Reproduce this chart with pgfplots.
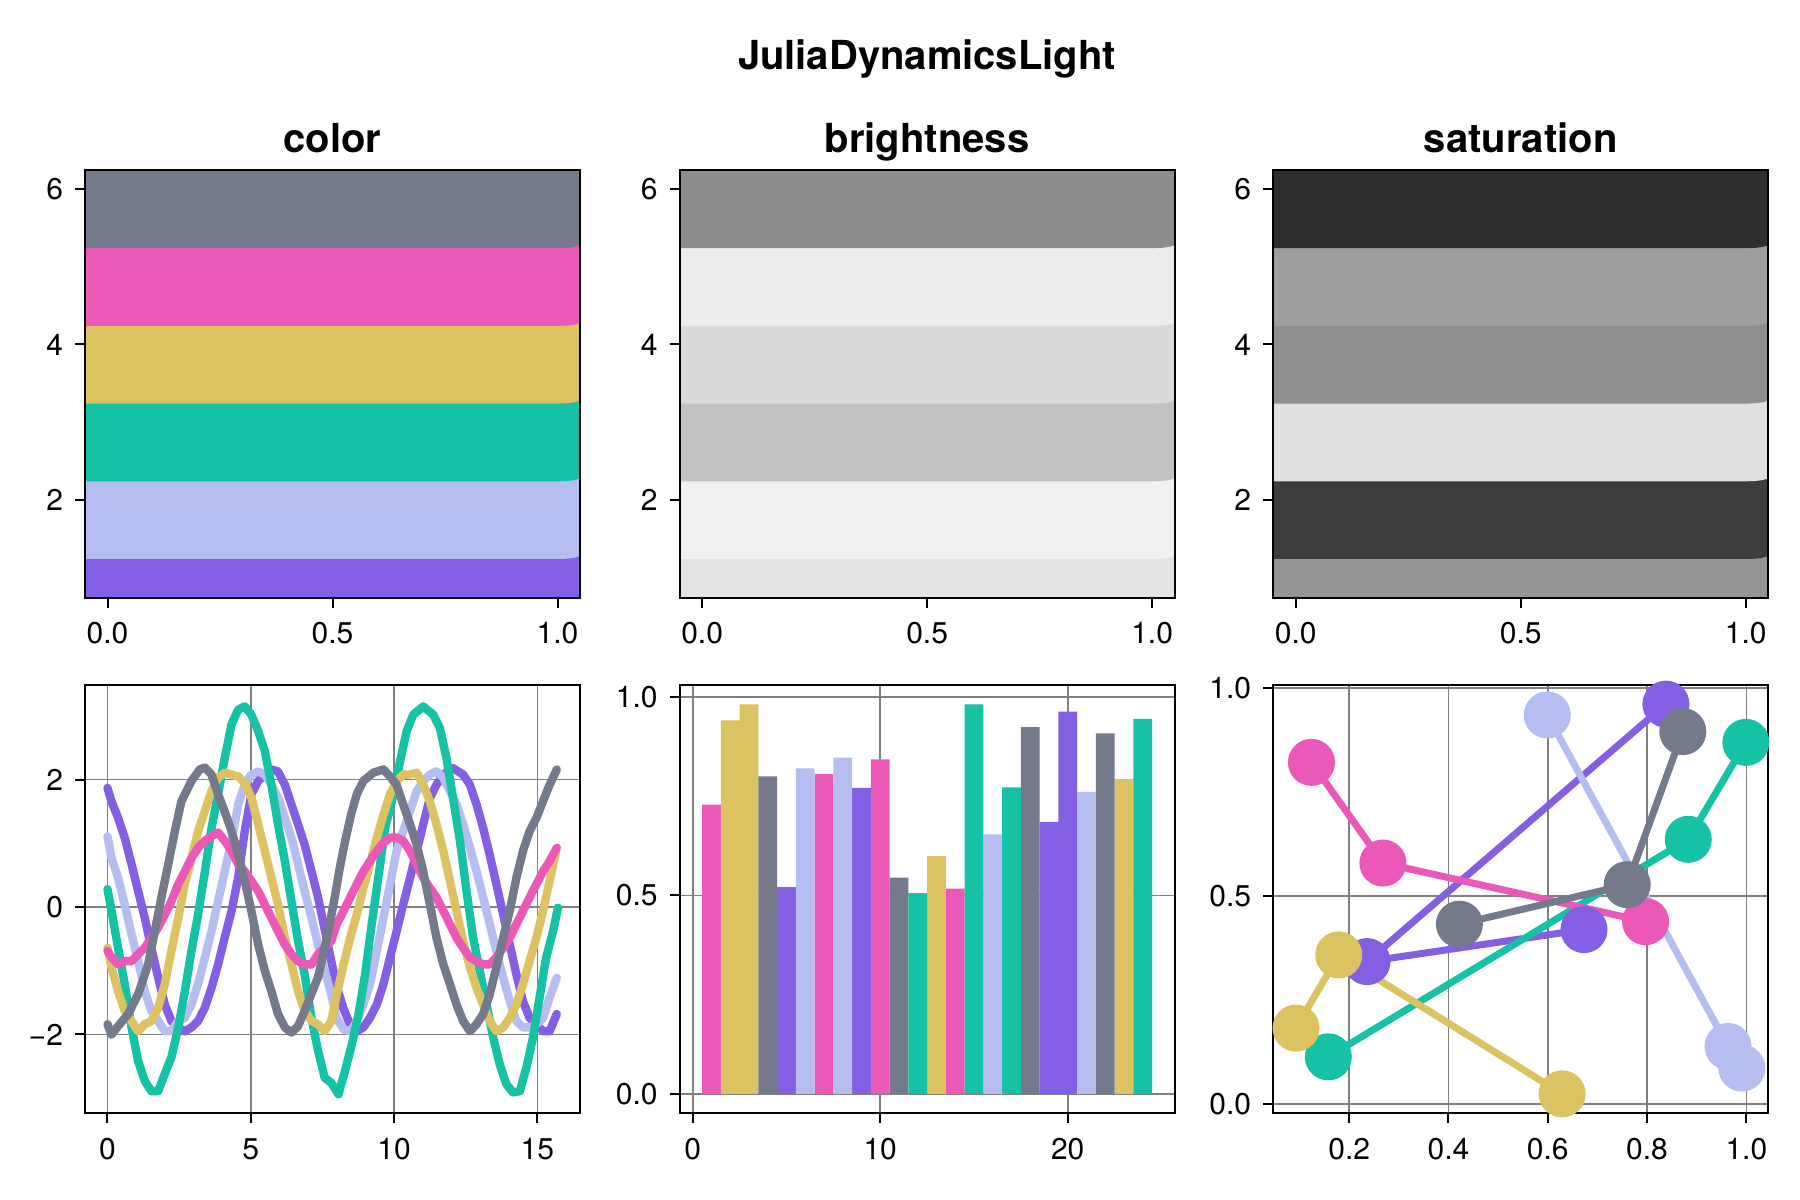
\documentclass[border=0pt]{standalone}
\usepackage{fontspec}
\setmainfont{TeX Gyre Heros}
\usepackage{pgfplots}
\pgfplotsset{compat=1.18}

\definecolor{cPurple}{HTML}{855FE3}
\definecolor{cLav}{HTML}{B6BDF0}
\definecolor{cTeal}{HTML}{15C2A6}
\definecolor{cYel}{HTML}{DCC261}
\definecolor{cPink}{HTML}{EB58B8}
\definecolor{cGray}{HTML}{747A8C}

\newcommand{\ticksize}{\fontsize{15}{17}\selectfont}
\newcommand{\titsize}{\fontsize{20}{23}\selectfont\bfseries}

% band: colour, k-1, k  (band k spans (k-1).24 .. k.76, rounded bottom-right corner)
\newcommand{\band}[3]{\addplot[fill=#1, draw=none] coordinates {(-0.1,#2.24) (1.005,#2.24) (1.0222,#2.2438) (1.0368,#2.2546) (1.0466,#2.2709) (1.05,#2.29) (1.05,#3.76) (-0.1,#3.76)};}

\pgfplotsset{
  jd/.style={
    scale only axis, width=247.5pt, height=214pt, anchor=north west,
    axis line style={line width=1pt, black},
    tick pos=left, tick align=outside, major tick length=5pt,
    tick style={line width=1pt, black},
    tick label style={font=\ticksize},
    xticklabel style={yshift=-4pt},
    yticklabel style={xshift=-2.5pt},
    grid style={black!50, line width=0.8pt},
    title style={font=\titsize, at={(0.5,1)}, anchor=base, yshift=2.5pt},
  },
  top/.style={jd, axis on top, xmin=-0.05, xmax=1.05, ymin=0.743, ymax=6.25,
    xtick={0,0.5,1}, xticklabels={0.0,0.5,1.0}, ytick={2,4,6}, yticklabels={2,4,6}},
}

\begin{document}
\begin{tikzpicture}
\path (0,0) rectangle (900pt,-600pt);
\node[font=\fontsize{20}{24}\selectfont\bfseries, anchor=base] at (463.5pt,-34.5pt) {JuliaDynamicsLight};

% ---------------- color
\begin{axis}[top, at={(42.5pt,-84.8pt)}, title={color}]
\band{cPurple}{0}{1}
\band{cLav}{1}{2}
\band{cTeal}{2}{3}
\band{cYel}{3}{4}
\band{cPink}{4}{5}
\band{cGray}{5}{6}
\end{axis}

% ---------------- brightness
\begin{axis}[top, at={(339.8pt,-84.8pt)}, title={brightness}]
\band{white!89!black}{0}{1}
\band{white!94.5!black}{1}{2}
\band{white!75.7!black}{2}{3}
\band{white!85.5!black}{3}{4}
\band{white!92.5!black}{4}{5}
\band{white!55!black}{5}{6}
\end{axis}

% ---------------- saturation
\begin{axis}[top, at={(636.6pt,-84.8pt)}, title={saturation}]
\band{white!58.5!black}{0}{1}
\band{white!24!black}{1}{2}
\band{white!88!black}{2}{3}
\band{white!55.7!black}{3}{4}
\band{white!62!black}{4}{5}
\band{white!18!black}{5}{6}
\end{axis}

% ---------------- lines
\begin{axis}[jd, at={(42.5pt,-342.7pt)}, xmin=-0.785, xmax=16.49, ymin=-3.24, ymax=3.48,
  xtick={0,5,10,15}, xticklabels={0,5,10,15}, ytick={-2,0,2}, yticklabels={−2,0,2},
  grid=major, every axis plot/.append style={line width=4.2pt, line join=round, line cap=round}]
\addplot[cPurple] coordinates {(0,1.87)(0.14,1.66)(0.37,1.40)(0.60,1.09)(0.84,0.67)(1.07,0.25)(1.30,-0.17)(1.53,-0.64)(1.77,-1.11)(2.00,-1.53)(2.23,-1.79)(2.47,-1.89)(2.70,-1.95)(2.93,-1.89)(3.16,-1.79)(3.40,-1.58)(3.63,-1.27)(3.86,-0.90)(4.09,-0.48)(4.33,-0.06)(4.56,0.46)(4.79,1.19)(5.02,1.77)(5.26,1.98)(5.49,2.08)(5.72,2.16)(5.95,2.13)(6.19,1.92)(6.42,1.61)(6.65,1.30)(6.88,0.98)(7.12,0.56)(7.35,0.15)(7.58,-0.35)(7.81,-0.85)(8.00,-1.25)(8.24,-1.60)(8.47,-1.85)(8.70,-1.95)(8.93,-1.89)(9.16,-1.74)(9.40,-1.53)(9.63,-1.21)(9.86,-0.79)(10.09,-0.38)(10.32,0.04)(10.56,0.46)(10.79,0.88)(11.02,1.30)(11.25,1.71)(11.48,1.92)(11.72,2.08)(12.06,2.18)(12.41,2.08)(12.65,1.92)(12.88,1.61)(13.11,1.24)(13.34,0.82)(13.57,0.36)(13.81,-0.12)(14.04,-0.59)(14.27,-1.06)(14.50,-1.48)(14.73,-1.74)(14.97,-1.84)(15.20,-1.95)(15.43,-1.95)(15.68,-1.68)};
\addplot[cLav] coordinates {(0,1.11)(0.14,0.77)(0.37,0.46)(0.60,0.04)(0.84,-0.43)(1.07,-0.85)(1.30,-1.32)(1.53,-1.63)(1.77,-1.79)(2.00,-1.95)(2.23,-1.95)(2.47,-1.79)(2.70,-1.74)(2.93,-1.53)(3.16,-1.21)(3.40,-0.79)(3.63,-0.38)(3.86,0.09)(4.09,0.56)(4.33,1.04)(4.56,1.61)(4.79,1.92)(5.02,2.08)(5.26,2.13)(5.49,2.08)(5.72,1.92)(5.95,1.72)(6.19,1.40)(6.42,1.09)(6.65,0.67)(6.88,0.25)(7.12,-0.17)(7.35,-0.59)(7.58,-1.00)(7.81,-1.37)(8.00,-1.75)(8.24,-1.92)(8.47,-1.95)(8.70,-1.80)(8.93,-1.53)(9.16,-1.21)(9.40,-0.69)(9.63,-0.17)(9.86,0.36)(10.09,0.88)(10.32,1.19)(10.56,1.51)(10.79,1.82)(11.02,1.98)(11.25,2.08)(11.48,2.13)(11.72,2.03)(11.95,1.82)(12.18,1.61)(12.41,1.30)(12.65,0.93)(12.88,0.56)(13.11,0.15)(13.34,-0.27)(13.57,-0.69)(13.81,-1.11)(14.04,-1.48)(14.27,-1.79)(14.50,-1.89)(14.73,-1.89)(14.97,-1.84)(15.20,-1.74)(15.43,-1.42)(15.68,-1.11)};
\addplot[cTeal] coordinates {(0,0.28)(0.14,-0.06)(0.37,-0.64)(0.60,-1.21)(0.84,-1.89)(1.07,-2.42)(1.30,-2.73)(1.53,-2.89)(1.77,-2.89)(2.00,-2.62)(2.23,-2.36)(2.47,-1.89)(2.70,-1.32)(2.93,-0.69)(3.16,-0.12)(3.40,0.56)(3.63,1.24)(3.86,1.77)(4.09,2.34)(4.33,2.87)(4.56,3.10)(4.79,3.15)(5.02,3.02)(5.26,2.76)(5.49,2.45)(5.72,1.92)(5.95,1.30)(6.19,0.72)(6.42,0.09)(6.65,-0.53)(6.88,-1.06)(7.12,-1.74)(7.35,-2.26)(7.58,-2.68)(7.81,-2.76)(8.06,-2.94)(8.29,-2.57)(8.53,-2.15)(8.76,-1.68)(8.99,-1.06)(9.22,-0.27)(9.45,0.46)(9.69,1.24)(9.98,1.77)(10.21,2.29)(10.44,2.76)(10.67,3.02)(11.02,3.15)(11.37,3.02)(11.60,2.81)(11.83,2.34)(12.06,1.71)(12.30,1.04)(12.53,0.25)(12.76,-0.48)(12.99,-1.00)(13.23,-1.53)(13.46,-2.05)(13.69,-2.47)(13.92,-2.78)(14.15,-2.91)(14.39,-2.89)(14.62,-2.52)(14.85,-2.05)(15.08,-1.42)(15.31,-0.79)(15.55,-0.38)(15.72,-0.01)};
\addplot[cYel] coordinates {(0,-0.64)(0.14,-0.95)(0.37,-1.32)(0.60,-1.63)(0.84,-1.79)(1.07,-1.95)(1.30,-1.84)(1.53,-1.79)(1.77,-1.58)(2.00,-1.21)(2.23,-0.69)(2.47,-0.17)(2.70,0.36)(2.93,0.77)(3.16,1.19)(3.40,1.51)(3.63,1.82)(3.86,2.03)(4.09,2.11)(4.33,2.08)(4.56,2.05)(4.79,1.95)(5.02,1.72)(5.26,1.30)(5.49,0.88)(5.72,0.46)(5.95,0.04)(6.19,-0.48)(6.42,-0.90)(6.65,-1.32)(6.88,-1.63)(7.12,-1.79)(7.35,-1.84)(7.58,-1.95)(7.81,-1.79)(8.00,-1.37)(8.24,-0.90)(8.47,-0.48)(8.70,-0.12)(8.93,0.30)(9.16,0.67)(9.40,1.09)(9.63,1.45)(9.86,1.77)(10.09,1.98)(10.32,2.08)(10.56,2.08)(10.79,2.11)(11.02,1.92)(11.25,1.66)(11.48,1.30)(11.72,0.88)(11.95,0.41)(12.18,-0.06)(12.41,-0.53)(12.65,-0.95)(12.88,-1.27)(13.11,-1.53)(13.34,-1.79)(13.57,-1.95)(13.81,-1.89)(14.04,-1.74)(14.27,-1.53)(14.50,-1.21)(14.73,-0.85)(14.97,-0.48)(15.20,-0.06)(15.43,0.41)(15.66,0.88)};
\addplot[cPink] coordinates {(0,-0.69)(0.14,-0.79)(0.37,-0.90)(0.60,-0.85)(0.84,-0.85)(1.07,-0.74)(1.30,-0.64)(1.53,-0.48)(1.77,-0.32)(2.00,-0.12)(2.23,0.09)(2.47,0.36)(2.70,0.56)(2.93,0.77)(3.16,0.93)(3.40,1.04)(3.63,1.11)(3.86,1.17)(4.09,1.04)(4.33,0.88)(4.56,0.67)(4.79,0.56)(5.02,0.41)(5.26,0.25)(5.49,0.04)(5.72,-0.17)(5.95,-0.38)(6.19,-0.59)(6.42,-0.74)(6.65,-0.85)(6.88,-0.90)(7.12,-0.90)(7.35,-0.74)(7.58,-0.64)(7.81,-0.53)(8.00,-0.27)(8.24,-0.06)(8.47,0.15)(8.70,0.36)(8.93,0.56)(9.16,0.72)(9.40,0.88)(9.63,1.01)(9.86,1.09)(10.09,1.09)(10.32,1.04)(10.56,0.88)(10.79,0.67)(11.02,0.46)(11.25,0.30)(11.48,0.15)(11.72,-0.06)(11.95,-0.27)(12.18,-0.48)(12.41,-0.64)(12.65,-0.79)(12.88,-0.85)(13.11,-0.90)(13.34,-0.90)(13.57,-0.79)(13.81,-0.64)(14.04,-0.48)(14.27,-0.27)(14.50,-0.06)(14.73,0.15)(14.97,0.36)(15.20,0.56)(15.43,0.72)(15.68,0.93)};
\addplot[cGray] coordinates {(0,-1.84)(0.14,-2.00)(0.37,-1.87)(0.72,-1.68)(1.07,-1.37)(1.42,-0.90)(1.65,-0.38)(1.88,0.15)(2.12,0.67)(2.35,1.19)(2.58,1.66)(2.93,1.98)(3.22,2.16)(3.40,2.19)(3.63,2.08)(3.86,1.77)(4.09,1.50)(4.33,1.19)(4.56,0.83)(4.79,0.41)(5.02,-0.06)(5.26,-0.59)(5.49,-1.00)(5.72,-1.32)(5.95,-1.68)(6.19,-1.89)(6.42,-1.97)(6.65,-1.87)(6.88,-1.63)(7.35,-1.10)(7.70,-0.40)(7.93,0.15)(8.10,0.60)(8.30,1.05)(8.50,1.45)(8.70,1.77)(8.93,1.98)(9.28,2.11)(9.63,2.16)(9.86,2.05)(10.09,1.92)(10.32,1.61)(10.56,1.30)(10.79,0.98)(11.02,0.56)(11.25,0.04)(11.48,-0.48)(11.72,-0.90)(11.95,-1.21)(12.18,-1.53)(12.41,-1.79)(12.65,-1.95)(12.88,-1.84)(13.11,-1.68)(13.34,-1.37)(13.57,-0.95)(13.81,-0.48)(14.04,-0.06)(14.27,0.46)(14.50,0.88)(14.73,1.19)(14.97,1.40)(15.20,1.66)(15.43,1.92)(15.68,2.16)};
\end{axis}

% ---------------- bars
\begin{axis}[jd, at={(339.8pt,-342.7pt)}, xmin=-0.7, xmax=25.7, ymin=-0.049, ymax=1.029,
  xtick={0,10,20}, xticklabels={0,10,20}, ytick={0,0.5,1}, yticklabels={0.0,0.5,1.0},
  grid=major, every axis plot/.append style={ybar, bar width=1, bar shift=0pt, draw=none}]
\addplot[fill=cPink] coordinates {(1,0.729)(7,0.806)(10,0.843)(14,0.517)};
\addplot[fill=cYel] coordinates {(2,0.941)(3,0.981)(13,0.599)(23,0.793)};
\addplot[fill=cGray] coordinates {(4,0.800)(11,0.545)(18,0.924)(22,0.908)};
\addplot[fill=cPurple] coordinates {(5,0.521)(9,0.771)(19,0.685)(20,0.963)};
\addplot[fill=cLav] coordinates {(6,0.820)(8,0.847)(16,0.654)(21,0.761)};
\addplot[fill=cTeal] coordinates {(12,0.506)(15,0.981)(17,0.772)(24,0.945)};
\end{axis}

% ---------------- scatterlines
\begin{axis}[jd, at={(636.6pt,-342.7pt)}, xmin=0.047, xmax=1.044, ymin=-0.023, ymax=1.006,
  xtick={0.2,0.4,0.6,0.8,1.0}, xticklabels={0.2,0.4,0.6,0.8,1.0}, ytick={0,0.5,1}, yticklabels={0.0,0.5,1.0},
  grid=major, every axis plot/.append style={line width=3.5pt, mark=*, mark size=10pt}]
\addplot[cPurple, mark options={draw=none, fill=cPurple}] coordinates {(0.838,0.961)(0.236,0.342)(0.673,0.419)};
\addplot[cLav, mark options={draw=none, fill=cLav}] coordinates {(0.599,0.935)(0.963,0.138)(0.991,0.086)};
\addplot[cTeal, mark options={draw=none, fill=cTeal}] coordinates {(0.158,0.113)(0.883,0.636)(0.999,0.869)};
\addplot[cYel, mark options={draw=none, fill=cYel}] coordinates {(0.093,0.182)(0.179,0.358)(0.629,0.024)};
\addplot[cPink, mark options={draw=none, fill=cPink}] coordinates {(0.124,0.821)(0.268,0.579)(0.797,0.438)};
\addplot[cGray, mark options={draw=none, fill=cGray}] coordinates {(0.422,0.432)(0.760,0.527)(0.872,0.895)};
\end{axis}
\end{tikzpicture}
\end{document}
